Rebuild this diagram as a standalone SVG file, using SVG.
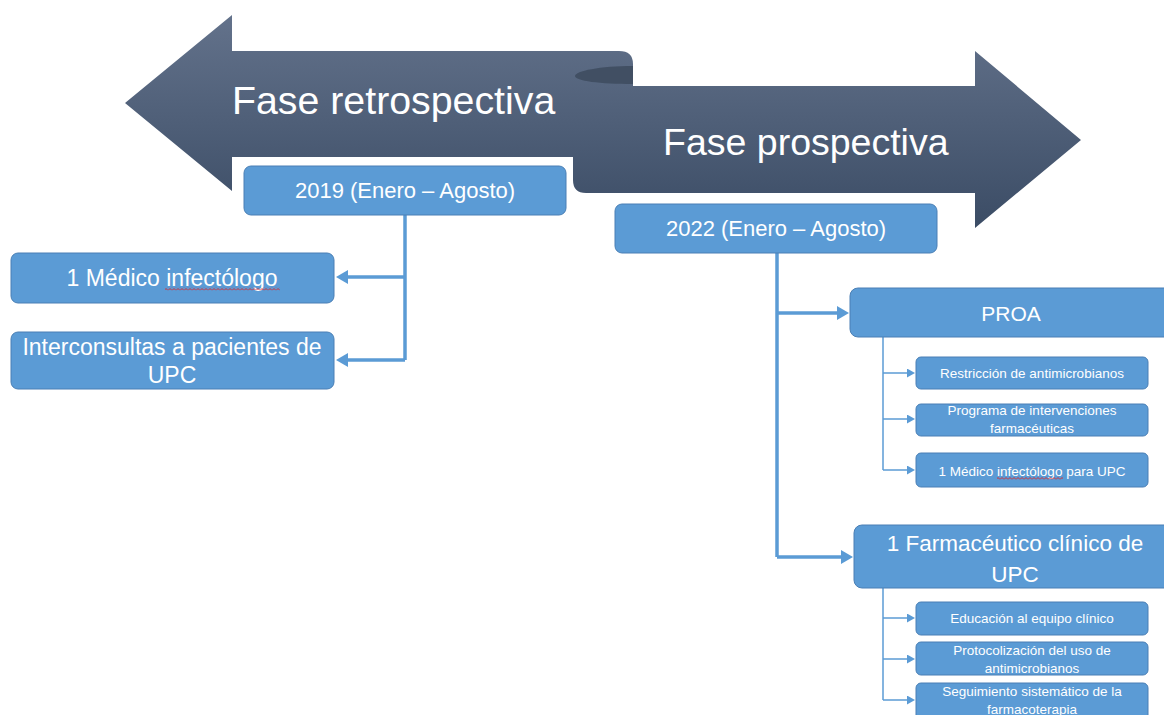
<svg xmlns="http://www.w3.org/2000/svg" width="1164" height="715" viewBox="0 0 1164 715">
  <defs>
    <linearGradient id="arrowGrad" gradientUnits="userSpaceOnUse" x1="0" y1="15" x2="0" y2="228">
      <stop offset="0" stop-color="#63728b"/>
      <stop offset="1" stop-color="#3b4c65"/>
    </linearGradient>
    <marker id="arrowBig" markerUnits="userSpaceOnUse" markerWidth="13" markerHeight="14" refX="1" refY="7" orient="auto">
      <path d="M0,0 L12,7 L0,14 Z" fill="#5b9bd5"/>
    </marker>
    <marker id="arrowSmall" markerUnits="userSpaceOnUse" markerWidth="9" markerHeight="9" refX="1" refY="4.5" orient="auto">
      <path d="M0,0 L8,4.5 L0,9 Z" fill="#5b9bd5"/>
    </marker>
    <pattern id="squiggle" patternUnits="userSpaceOnUse" width="4" height="3">
      <path d="M0,2.5 L2,0.5 L4,2.5" fill="none" stroke="#e02020" stroke-width="0.9"/>
    </pattern>
    <style>
      .box { fill: #5b9bd5; stroke: #4a7fb5; stroke-width: 1; }
      .t { fill: #ffffff; font-family: "Liberation Sans", Arial, sans-serif; text-anchor: middle; }
      .big { text-anchor: start; }
      .thick { fill: none; stroke: #5b9bd5; stroke-width: 3.5; }
      .thin { fill: none; stroke: #5b9bd5; stroke-width: 1.5; }
    </style>
  </defs>

  <rect width="1164" height="715" fill="#ffffff"/>

  <!-- Scroll arrows -->
  <g id="phase-arrows">
    <path d="M125,103 L232,15 L232,51 L619,51 Q633,51 633,64 L633,86 L975,86 L975,51 L1081,140 L975,228 L975,193 L586,193 Q573,193 573,180 L573,157 L232,157 L232,191 Z" fill="url(#arrowGrad)"/>
    <path d="M633,66 C600,66 575,71 575,76 C575,81 600,84 633,84 Z" fill="#414f63"/>
    <text class="t big" x="232" y="114" font-size="39.3">Fase retrospectiva</text>
    <text class="t big" x="663" y="155" font-size="37.5">Fase prospectiva</text>
  </g>

  <!-- Connectors -->
  <g id="connectors">
    <path class="thick" d="M405,215 L405,360"/>
    <path class="thick" d="M405,277 L347,277" marker-end="url(#arrowBig)"/>
    <path class="thick" d="M405,360 L347,360" marker-end="url(#arrowBig)"/>

    <path class="thick" d="M777,253 L777,557"/>
    <path class="thick" d="M777,313 L838,313" marker-end="url(#arrowBig)"/>
    <path class="thick" d="M777,557 L842,557" marker-end="url(#arrowBig)"/>

    <path class="thin" d="M883,337 L883,470"/>
    <path class="thin" d="M883,373 L908,373" marker-end="url(#arrowSmall)"/>
    <path class="thin" d="M883,419 L908,419" marker-end="url(#arrowSmall)"/>
    <path class="thin" d="M883,470 L908,470" marker-end="url(#arrowSmall)"/>

    <path class="thin" d="M883,588 L883,700"/>
    <path class="thin" d="M883,618 L908,618" marker-end="url(#arrowSmall)"/>
    <path class="thin" d="M883,659 L908,659" marker-end="url(#arrowSmall)"/>
    <path class="thin" d="M883,700 L908,700" marker-end="url(#arrowSmall)"/>
  </g>

  <!-- Retrospective branch -->
  <g id="node-2019">
    <rect class="box" x="244" y="166" width="322" height="49" rx="7"/>
    <text class="t" x="405" y="198" font-size="22">2019 (Enero – Agosto)</text>
  </g>
  <g id="node-medico">
    <rect class="box" x="11" y="253" width="323" height="50" rx="7"/>
    <text class="t" x="172" y="286" font-size="23">1 Médico infectólogo</text>
    <rect x="165" y="287.5" width="115" height="3" fill="url(#squiggle)"/>
  </g>
  <g id="node-interconsultas">
    <rect class="box" x="11" y="332" width="323" height="57" rx="7"/>
    <text class="t" x="172" y="355" font-size="23">Interconsultas a pacientes de</text>
    <text class="t" x="172" y="383" font-size="23">UPC</text>
  </g>

  <!-- Prospective branch -->
  <g id="node-2022">
    <rect class="box" x="615" y="204" width="322" height="49" rx="7"/>
    <text class="t" x="776" y="236" font-size="22">2022 (Enero – Agosto)</text>
  </g>
  <g id="node-proa">
    <rect class="box" x="850" y="288" width="323" height="49" rx="8"/>
    <text class="t" x="1011" y="320.5" font-size="21">PROA</text>
  </g>
  <g id="node-restriccion">
    <rect class="box" x="916" y="357" width="232" height="32" rx="5"/>
    <text class="t" x="1032" y="378" font-size="13.5">Restricción de antimicrobianos</text>
  </g>
  <g id="node-programa">
    <rect class="box" x="916" y="404" width="232" height="32" rx="5"/>
    <text class="t" x="1032" y="415" font-size="13.5">Programa de intervenciones</text>
    <text class="t" x="1032" y="433" font-size="13.5">farmacéuticas</text>
  </g>
  <g id="node-medico-upc">
    <rect class="box" x="916" y="453" width="232" height="34" rx="5"/>
    <text class="t" x="1032" y="476" font-size="13.5">1 Médico infectólogo para UPC</text>
    <rect x="997" y="477" width="66" height="3" fill="url(#squiggle)"/>
  </g>
  <g id="node-farmaceutico">
    <rect class="box" x="854" y="525" width="323" height="63" rx="8"/>
    <text class="t" x="1015" y="551" font-size="22.5">1 Farmacéutico clínico de</text>
    <text class="t" x="1015" y="582" font-size="22.5">UPC</text>
  </g>
  <g id="node-educacion">
    <rect class="box" x="916" y="602" width="232" height="33" rx="5"/>
    <text class="t" x="1032" y="623" font-size="13.5">Educación al equipo clínico</text>
  </g>
  <g id="node-protocolizacion">
    <rect class="box" x="916" y="642" width="232" height="33" rx="5"/>
    <text class="t" x="1032" y="655" font-size="13.5">Protocolización del uso de</text>
    <text class="t" x="1032" y="673" font-size="13.5">antimicrobianos</text>
  </g>
  <g id="node-seguimiento">
    <rect class="box" x="916" y="683" width="232" height="40" rx="5"/>
    <text class="t" x="1032" y="696" font-size="13.5">Seguimiento sistemático de la</text>
    <text class="t" x="1032" y="714" font-size="13.5">farmacoterapia</text>
  </g>
</svg>
